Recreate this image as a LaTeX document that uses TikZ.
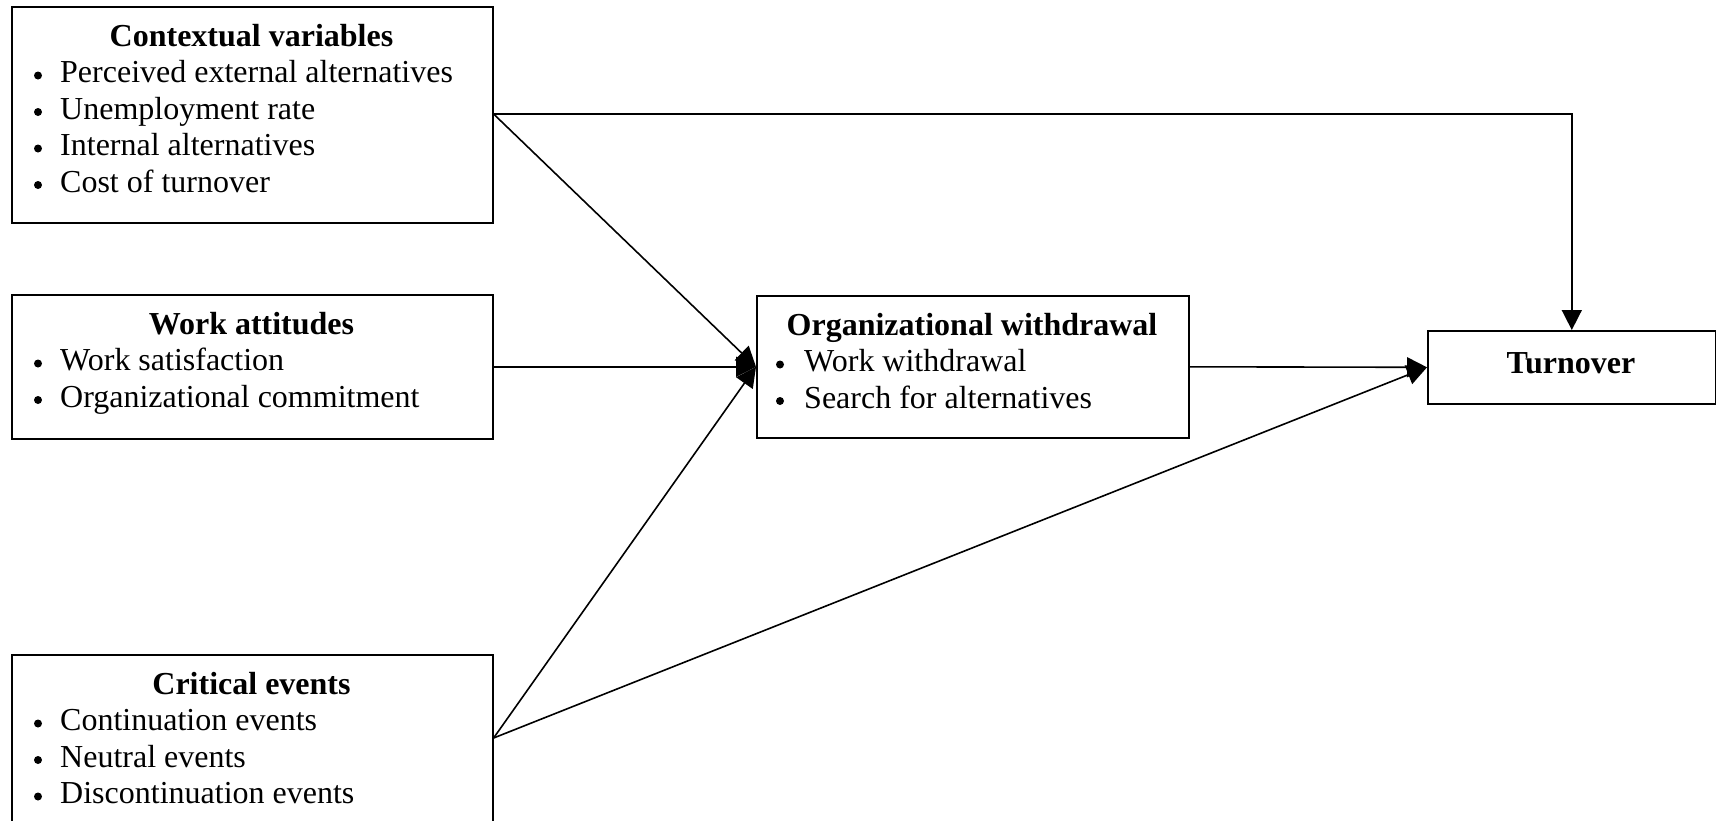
\documentclass[tikz,border=0pt]{standalone}
\usepackage{fontspec}
\setmainfont{Liberation Serif}
\usetikzlibrary{arrows.meta}
\begin{document}
\begin{tikzpicture}[x=1pt,y=-1pt,
  box/.style={draw, line width=1.6pt, rectangle, inner sep=0pt, anchor=north west},
  ttl/.style={inner sep=0pt, font=\fontsize{32}{36.8}\selectfont\bfseries, anchor=base},
  itm/.style={inner sep=0pt, font=\fontsize{32}{36.8}\selectfont, anchor=base west},
  conn/.style={line width=1.6pt, -{Triangle[length=20pt,width=20pt]}}]
\useasboundingbox (0,0) rectangle (1716,820);
\clip (0,0) rectangle (1716,820);
% boxes
\node[box, minimum width=481pt, minimum height=216pt] (ctx) at (11,6) {};
\node[box, minimum width=481pt, minimum height=144pt] (wa) at (11,294) {};
\node[box, minimum width=481pt, minimum height=220pt] (crit) at (11,654) {};
\node[box, minimum width=432pt, minimum height=142pt] (org) at (756,295) {};
\node[box, minimum width=288pt, minimum height=73pt] (turn) at (1427,330) {};
% texts
\node[ttl] (ctxT) at (251.5,46) {Contextual variables};
\node[itm] (ctx1) at (60,82.5) {Perceived external alternatives};
\node[itm] (ctx2) at (60,119) {Unemployment rate};
\node[itm] (ctx3) at (60,155.5) {Internal alternatives};
\node[itm] (ctx4) at (60,192) {Cost of turnover};
\node[ttl] (waT) at (251.5,334) {Work attitudes};
\node[itm] (wa1) at (60,370.5) {Work satisfaction};
\node[itm] (wa2) at (60,407) {Organizational commitment};
\node[ttl] (critT) at (251.5,694) {Critical events};
\node[itm] (crit1) at (60,730.5) {Continuation events};
\node[itm] (crit2) at (60,767) {Neutral events};
\node[itm] (crit3) at (60,803.5) {Discontinuation events};
\node[ttl] (orgT) at (972,335) {Organizational withdrawal};
\node[itm] (org1) at (804,371.5) {Work withdrawal};
\node[itm] (org2) at (804,408) {Search for alternatives};
\node[ttl] (turnT) at (1571,373) {Turnover};
% bullets
\foreach \y in {82.5,119,155.5,192,370.5,407,730.5,767,803.5}
  \fill (38,\y-7) circle (4);
\foreach \y in {371.5,408}
  \fill (780,\y-7) circle (4);
% connectors
\coordinate (ctxo) at ([yshift=-108pt]ctx.north east);
\coordinate (crito) at ([yshift=-84pt]crit.north east);
\draw[conn] (ctxo) -- (org.west);
\draw[conn] (wa.east) -- (org.west);
\draw[conn] (crito) -- (org.west);
\draw[conn] (ctxo) -| (turn.north);
\draw[conn] (org.east) -- (turn.west);
\draw[conn] (crito) -- (turn.west);
\end{tikzpicture}
\end{document}
